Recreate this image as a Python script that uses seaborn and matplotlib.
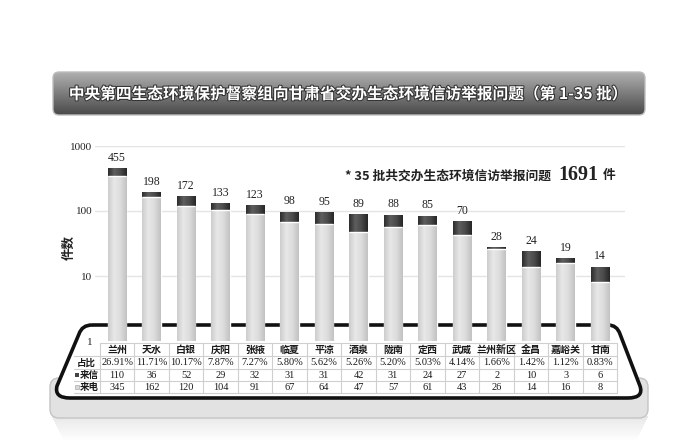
import numpy as np
import pandas as pd
import matplotlib
matplotlib.use("Agg")
import matplotlib.pyplot as plt
import seaborn as sns
from matplotlib.patches import FancyBboxPatch, PathPatch, Rectangle
from matplotlib.path import Path
from matplotlib.colors import LinearSegmentedColormap
import matplotlib.patheffects as pe

# ---------------- data ----------------
cities = ["兰州", "天水", "白银", "庆阳", "张掖", "临夏", "平凉", "酒泉",
          "陇南", "定西", "武威", "兰州新区", "金昌", "嘉峪关", "甘南"]
totals = [455, 198, 172, 133, 123, 98, 95, 89, 88, 85, 70, 28, 24, 19, 14]
shares = ["26.91%", "11.71%", "10.17%", "7.87%", "7.27%", "5.80%", "5.62%",
          "5.26%", "5.20%", "5.03%", "4.14%", "1.66%", "1.42%", "1.12%", "0.83%"]
letters = [110, 36, 52, 29, 32, 31, 31, 42, 31, 24, 27, 2, 10, 3, 6]
calls = [345, 162, 120, 104, 91, 67, 64, 47, 57, 61, 43, 26, 14, 16, 8]
yticks = [1, 10, 100, 1000]
ytick_labels = ["1", "10", "100", "1000"]
title = "中央第四生态环境保护督察组向甘肃省交办生态环境信访举报问题（第 1-35 批）"
note_text = "* 35 批共交办生态环境信访举报问题"
note_total = "1691"
note_unit = "件"

df = pd.DataFrame({"city": cities, "total": totals, "calls": calls})

sns.set_theme(style="white")
CJK = ["Noto Sans CJK SC", "DejaVu Sans"]
SERIF = ["Liberation Serif", "Noto Sans CJK SC"]
plt.rcParams["font.family"] = CJK

W, H = 700, 448
fig = plt.figure(figsize=(W / 100, H / 100), dpi=100)
fig.patch.set_facecolor("white")

# background drawing layer in pixel coordinates
bg = fig.add_axes([0, 0, 1, 1], zorder=0)
bg.set_autoscale_on(False)
bg.set_xlim(0, W)
bg.set_ylim(H, 0)
bg.axis("off")

# main chart axes
ax = fig.add_axes([95 / W, (H - 341) / H, 530 / W, 195 / H], zorder=1)
ax.patch.set_alpha(0)

dark = "#444444"
light = "#d8d8d8"
BW = 0.54
sns.barplot(data=df, x="city", y="total", color=dark, width=BW,
            saturation=1, ax=ax, log_scale=True)
sns.barplot(data=df, x="city", y="calls", color=light, width=BW,
            saturation=1, ax=ax, linewidth=0)
ax.set_yscale("log")
ax.set_autoscale_on(False)
ax.set_ylim(1, 1000)
ax.set_xlim(-0.64, 14.72)

# cylinder-like shading clipped to the seaborn bars
dark_cmap = LinearSegmentedColormap.from_list("d", ["#2c2c2c", "#5e5e5e", "#4a4a4a", "#262626"])
light_cmap = LinearSegmentedColormap.from_list("l", ["#cdcdcd", "#e8e8e8", "#dcdcdc", "#c2c2c2"])
hgrad = np.linspace(0, 1, 64).reshape(1, -1)
n = len(cities)
for k, p in enumerate(ax.patches[:2 * n]):
    cm = dark_cmap if k < n else light_cmap
    z = 1.1 if k < n else 1.3
    if k >= n:
        p.set_zorder(1.2)
    x0 = p.get_x()
    x1 = x0 + p.get_width()
    X0, Y0 = bg.transData.inverted().transform(ax.transData.transform((x0, 1000)))
    X1, Y1 = bg.transData.inverted().transform(ax.transData.transform((x1, 1)))
    im = ax.imshow(hgrad, extent=(X0, X1, Y1, Y0), cmap=cm, aspect="auto",
                   transform=bg.transData, zorder=z, interpolation="bilinear")
    im.set_clip_path(p)
ax.set_ylim(1, 1000)
ax.set_xlim(-0.64, 14.72)
xs = np.arange(n)
ax.hlines(calls, xs - BW / 2, xs + BW / 2, color="white", lw=1, zorder=1.4)

ax.set_yticks(yticks)
ax.set_yticklabels(ytick_labels, fontfamily=SERIF, fontsize=8, color="#222222")
ax.yaxis.set_minor_locator(matplotlib.ticker.NullLocator())
ax.tick_params(axis="y", length=0, pad=2)
ax.set_xticks([])
ax.set_xlabel("")
ax.set_ylabel("件数", fontsize=9, fontweight="bold", color="#222222")
ax.yaxis.set_label_coords(-0.036, 0.48)
for s in ax.spines.values():
    s.set_visible(False)
ax.yaxis.grid(True, color="#e4e4e4", linewidth=1)
ax.set_axisbelow(True)
ax.get_ygridlines()[0].set_visible(False)

for i, v in enumerate(totals):
    ax.annotate(str(v), (i, v), xytext=(0, 3), textcoords="offset points",
                ha="center", va="bottom", fontsize=8.5, fontfamily=SERIF,
                color="#222222")

# ---------------- title banner ----------------
banner = FancyBboxPatch((53, 72), 592, 43, boxstyle="round,pad=0,rounding_size=6",
                        facecolor="none", edgecolor="#bdbdbd", linewidth=1, zorder=3)
bg.add_patch(banner)
cmap = LinearSegmentedColormap.from_list("g", ["#b0b0b0", "#7c7c7c", "#4a4a4a"])
grad = np.linspace(0, 1, 100).reshape(-1, 1)
im = bg.imshow(grad, extent=(53, 645, 115, 72), origin="upper", cmap=cmap,
               aspect="auto", zorder=2)
im.set_clip_path(banner)
bg.set_xlim(0, W)
bg.set_ylim(H, 0)
bg.text(349, 94, title, ha="center", va="center", fontsize=11.3, color="white",
        fontweight="bold", zorder=4,
        path_effects=[pe.withStroke(linewidth=1.5, foreground="#333333")])

# ---------------- note ----------------
bg.text(345, 176, note_text, ha="left", va="center", fontsize=9.2, fontweight="bold",
        color="#222222", family=CJK)
bg.text(558, 175, note_total, ha="left", va="center", fontsize=14.5, fontweight="bold",
        color="#222222", family=SERIF)
bg.text(603, 176, note_unit, ha="left", va="center", fontsize=9.2, fontweight="bold",
        color="#222222", family=CJK)

# ---------------- base slab + frame ----------------
for k in range(12):
    y0 = 416 + k * 2
    bg.add_patch(Rectangle((52 + k, y0), 596 - 2 * k, 2, facecolor="#9a9a9a",
                           alpha=0.22 * (1 - k / 12), edgecolor="none", zorder=1))
slab = FancyBboxPatch((50, 378), 598, 40, boxstyle="round,pad=0,rounding_size=9",
                      facecolor="#e2e2e2", edgecolor="#c4c4c4", linewidth=1, zorder=2)
bg.add_patch(slab)

verts = [(92, 325), (608, 325), (617, 325), (620, 334), (640, 386), (644, 398),
         (628, 398), (70, 398), (54, 398), (57, 386), (79, 334), (82, 325), (92, 325)]
codes = [Path.MOVETO, Path.LINETO, Path.CURVE3, Path.CURVE3, Path.LINETO,
         Path.CURVE3, Path.CURVE3, Path.LINETO, Path.CURVE3, Path.CURVE3,
         Path.LINETO, Path.CURVE3, Path.CURVE3]
frame = PathPatch(Path(verts, codes), facecolor="white", edgecolor="#111111",
                  linewidth=2.6, zorder=3)
bg.add_patch(frame)

# ---------------- table ----------------
def px(i):
    return bg.transData.inverted().transform(ax.transData.transform((i, 1)))[0]

col_l = px(-0.5)
col_r = px(14.5)
row_edges = [343, 356, 369, 381, 393]
grid_c = "#cfcfcf"
bg.add_patch(Rectangle((col_l, 343), col_r - col_l, 50, facecolor="white",
                       edgecolor="none", zorder=4))
bg.plot([col_l, col_r], [343, 343], color=grid_c, lw=0.8, zorder=5)
for y in row_edges[1:]:
    bg.plot([74, col_r], [y, y], color=grid_c, lw=0.8, zorder=5)
for i in range(16):
    x = px(i - 0.5)
    bg.plot([x, x], [343, 393], color=grid_c, lw=0.8, zorder=5)

row_y = [349.5, 362.5, 375, 387]
txt_c = "#1a1a1a"
for i in range(n):
    x = px(i)
    bg.text(x, row_y[0], cities[i], ha="center", va="center", fontsize=7.2,
            fontweight="bold", color=txt_c, zorder=6, family=CJK)
    bg.text(x, row_y[1], shares[i], ha="center", va="center", fontsize=7.5,
            color=txt_c, zorder=6, family=SERIF)
    bg.text(x, row_y[2], str(letters[i]), ha="center", va="center", fontsize=7.5,
            color=txt_c, zorder=6, family=SERIF)
    bg.text(x, row_y[3], str(calls[i]), ha="center", va="center", fontsize=7.5,
            color=txt_c, zorder=6, family=SERIF)

bg.text(86, row_y[1], "占比", ha="center", va="center", fontsize=6.8,
        fontweight="bold", color=txt_c, zorder=6, family=CJK)
bg.text(98.5, row_y[2], "来信", ha="right", va="center", fontsize=6.8,
        fontweight="bold", color=txt_c, zorder=6, family=CJK)
bg.text(98.5, row_y[3], "来电", ha="right", va="center", fontsize=6.8,
        fontweight="bold", color=txt_c, zorder=6, family=CJK)
bg.add_patch(Rectangle((75, row_y[2] - 2), 4, 4, facecolor=dark,
                       edgecolor="none", zorder=6))
bg.add_patch(Rectangle((75, row_y[3] - 2), 4, 4, facecolor=light,
                       edgecolor="#aaaaaa", linewidth=0.5, zorder=6))

fig.savefig("out.png", dpi=100, facecolor="white")
